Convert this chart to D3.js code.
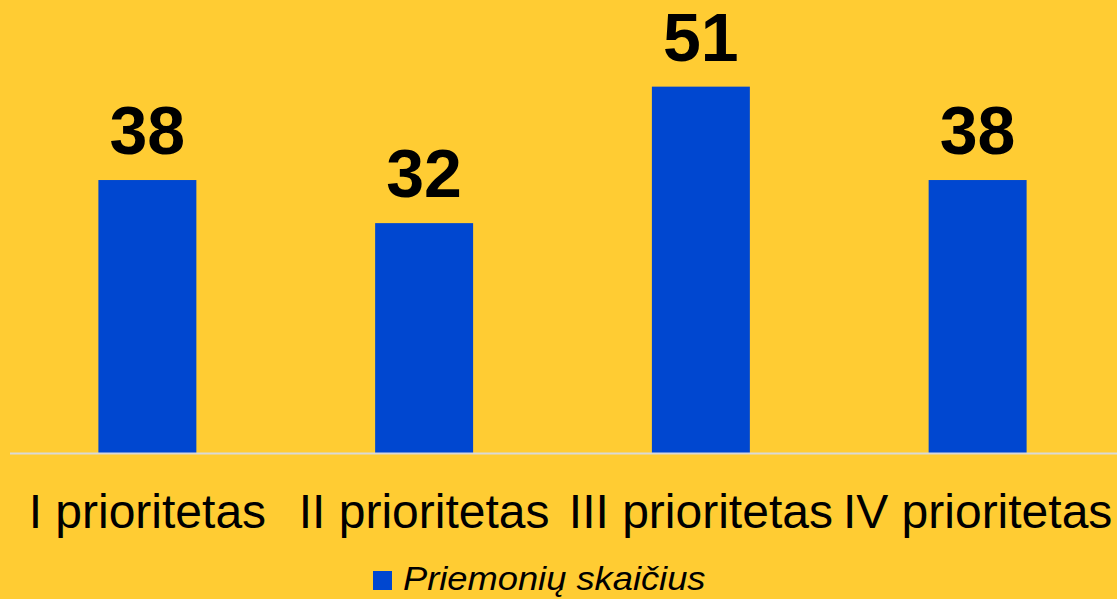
<!DOCTYPE html>
<html lang="lt">
<head>
    <meta charset="UTF-8">
    <title>Priemonių skaičius</title>
    <script src="https://cdnjs.cloudflare.com/ajax/libs/d3/7.8.5/d3.min.js"></script>
    <style>
        html, body { margin: 0; padding: 0; background: #ffcc33; }
        svg { display: block; font-family: "Liberation Sans", Arial, sans-serif; }
    </style>
</head>
<body>
    <div id="chart"></div>
    <script>
        // duomenys
        const categories = ["I prioritetas", "II prioritetas", "III prioritetas", "IV prioritetas"];
        const values = [38, 32, 51, 38];
        const seriesName = "Priemonių skaičius";

        const width = 1117;
        const height = 599;

        const svg = d3.select("#chart").append("svg")
            .attr("width", width)
            .attr("height", height);

        svg.append("rect")
            .attr("width", width)
            .attr("height", height)
            .attr("fill", "#ffcc33");

        const x = d3.scaleBand()
            .domain(categories)
            .range([9, 1116])
            .paddingInner(0.646)
            .paddingOuter(0.323);

        const y = d3.scaleLinear()
            .domain([0, 60])
            .range([453, 22]);

        // stulpeliai
        svg.selectAll(".bar")
            .data(values)
            .enter().append("rect")
            .attr("class", "bar")
            .attr("x", (d, i) => x(categories[i]))
            .attr("y", d => y(d))
            .attr("width", x.bandwidth())
            .attr("height", d => y(0) - y(d))
            .attr("fill", "#0047d0");

        // ašies linija
        svg.append("line")
            .attr("x1", 10)
            .attr("x2", width)
            .attr("y1", y(0) + 0.5)
            .attr("y2", y(0) + 0.5)
            .attr("stroke", "#d9d9d9")
            .attr("stroke-width", 2);

        // reikšmės virš stulpelių
        svg.selectAll(".val")
            .data(values)
            .enter().append("text")
            .attr("class", "val")
            .attr("x", (d, i) => x(categories[i]) + x.bandwidth() / 2)
            .attr("y", d => y(d) - 26)
            .attr("text-anchor", "middle")
            .attr("font-size", 68)
            .attr("font-weight", "bold")
            .attr("fill", "#000")
            .text(d => d);

        // kategorijų pavadinimai
        svg.selectAll(".cat")
            .data(categories)
            .enter().append("text")
            .attr("class", "cat")
            .attr("x", d => x(d) + x.bandwidth() / 2)
            .attr("y", 528)
            .attr("text-anchor", "middle")
            .attr("font-size", 48)
            .attr("fill", "#000")
            .text(d => d);

        // legenda
        const legend = svg.append("g").attr("transform", "translate(373,571)");
        legend.append("rect")
            .attr("width", 19)
            .attr("height", 19)
            .attr("fill", "#0047d0");
        legend.append("text")
            .attr("transform", "translate(30,19) scale(1.1,1)")
            .attr("font-size", 33)
            .attr("font-style", "italic")
            .attr("fill", "#000")
            .text(seriesName);
    </script>
</body>
</html>
